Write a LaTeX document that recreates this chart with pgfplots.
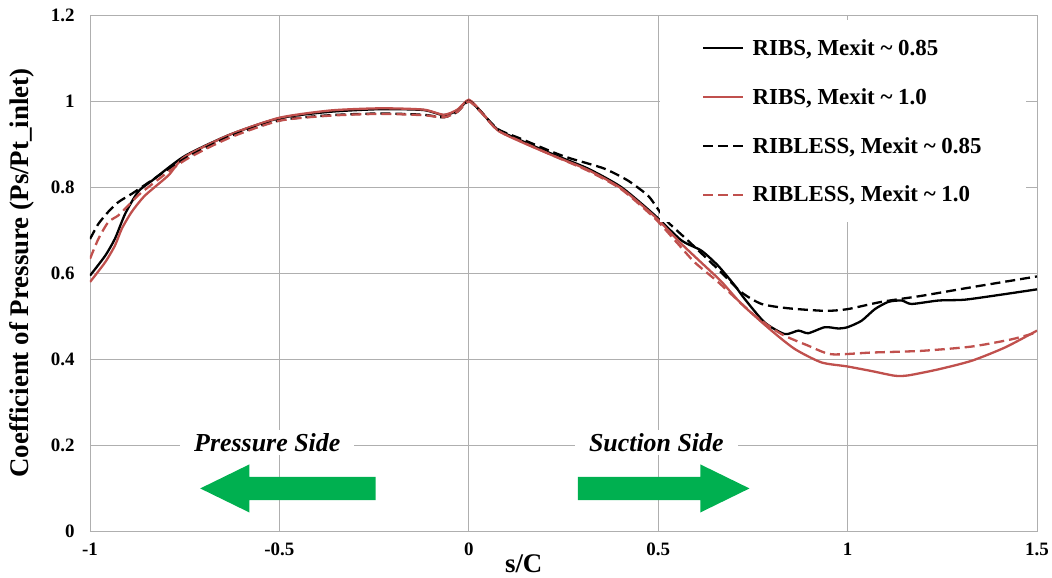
\documentclass[border=0pt]{standalone}
\usepackage{fontspec}
\setmainfont{Liberation Serif}
\usepackage{pgfplots}
\pgfplotsset{compat=1.18}
\definecolor{ribred}{RGB}{192,80,77}
\definecolor{arrgreen}{RGB}{0,176,80}
\definecolor{gridgray}{RGB}{175,175,175}
\begin{document}
\begin{tikzpicture}
\begin{axis}[
  scale only axis, width=947bp, height=516bp,
  xmin=-1, xmax=1.5, ymin=0, ymax=1.2,
  xtick={-1,-0.5,0,0.5,1,1.5}, xticklabels={-1,-0.5,0,0.5,1,1.5},
  ytick={0,0.2,0.4,0.6,0.8,1,1.2}, yticklabels={0,0.2,0.4,0.6,0.8,1,1.2},
  grid=major, major grid style={gridgray, line width=0.9bp},
  axis line style={gridgray, line width=0.9bp},
  major tick length=0pt,
  tick label style={font=\fontsize{19}{21}\selectfont\bfseries},
  xticklabel style={yshift=-8bp},
  yticklabel style={xshift=-12bp},
  xlabel={s/C},
  xlabel style={font=\fontsize{27}{29}\selectfont\bfseries, at={(axis description cs:0.458,-0.063)}, anchor=center},
  ylabel={Coefficient of Pressure (Ps/Pt\_inlet)},
  ylabel style={font=\fontsize{27}{29}\selectfont\bfseries, at={(axis description cs:-0.0718,0.5)}, anchor=center},
  legend style={at={(axis description cs:0.602,0.99)}, anchor=north west, draw=none, fill=white,
    font=\fontsize{23}{25}\selectfont\bfseries, inner xsep=42bp, inner ysep=17bp, row sep=27.5bp,
    cells={anchor=west}},
  legend image code/.code={\draw[#1] (0bp,0bp) -- (40bp,0bp); \path (46bp,0bp);},
  every axis plot/.append style={line width=2.3bp, smooth, tension=0.4},
]
\addplot[black] coordinates {
(-1,0.594) (-0.96,0.64) (-0.934,0.68) (-0.907,0.738) (-0.873,0.789) (-0.836,0.815)
(-0.75,0.872) (-0.63,0.922) (-0.5,0.960) (-0.365,0.975) (-0.233,0.981) (-0.12,0.979)
(-0.066,0.967) (-0.03,0.978) (0,1.001) (0.032,0.975) (0.076,0.934) (0.138,0.908)
(0.225,0.875) (0.314,0.843) (0.402,0.800) (0.49,0.735) (0.561,0.676) (0.614,0.652)
(0.658,0.617) (0.702,0.571) (0.728,0.540) (0.781,0.485) (0.834,0.458) (0.87,0.466)
(0.896,0.460) (0.94,0.474) (0.975,0.471) (1.0,0.474) (1.037,0.489) (1.072,0.516)
(1.108,0.533) (1.143,0.536) (1.169,0.528) (1.24,0.536) (1.31,0.538) (1.416,0.551) (1.5,0.562)
};
\addlegendentry{RIBS, Mexit \textasciitilde{} 0.85}
\addplot[ribred] coordinates {
(-1,0.579) (-0.96,0.625) (-0.934,0.664) (-0.916,0.703) (-0.89,0.742) (-0.855,0.78)
(-0.793,0.827) (-0.75,0.87) (-0.63,0.922) (-0.5,0.961) (-0.365,0.978) (-0.233,0.983)
(-0.12,0.980) (-0.066,0.968) (-0.03,0.980) (0,1.003) (0.032,0.976) (0.076,0.932)
(0.138,0.905) (0.225,0.872) (0.314,0.840) (0.402,0.797) (0.49,0.732) (0.561,0.668)
(0.631,0.610) (0.667,0.58) (0.72,0.528) (0.799,0.466) (0.861,0.423) (0.931,0.392)
(0.997,0.383) (1.063,0.372) (1.125,0.361) (1.161,0.362) (1.24,0.376) (1.328,0.396)
(1.416,0.427) (1.5,0.466)
};
\addlegendentry{RIBS, Mexit \textasciitilde{} 1.0}
\addplot[black, dash pattern=on 10bp off 5bp] coordinates {
(-1,0.679) (-0.978,0.714) (-0.952,0.742) (-0.925,0.765) (-0.89,0.784) (-0.863,0.80)
(-0.75,0.866) (-0.63,0.918) (-0.5,0.955) (-0.365,0.967) (-0.233,0.971) (-0.12,0.968)
(-0.066,0.962) (-0.03,0.975) (0,1.0) (0.032,0.975) (0.076,0.935) (0.138,0.912)
(0.225,0.88) (0.27,0.866) (0.357,0.843) (0.42,0.815) (0.473,0.780) (0.499,0.749)
(0.526,0.718) (0.579,0.675) (0.66,0.607) (0.72,0.555) (0.773,0.528) (0.843,0.518)
(0.94,0.512) (1.0,0.516) (1.09,0.533) (1.196,0.547) (1.328,0.567) (1.5,0.592)
};
\addlegendentry{RIBLESS, Mexit \textasciitilde{} 0.85}
\addplot[ribred, dash pattern=on 10bp off 5bp] coordinates {
(-1,0.633) (-0.978,0.679) (-0.952,0.718) (-0.925,0.734) (-0.899,0.757) (-0.863,0.788)
(-0.75,0.862) (-0.63,0.915) (-0.5,0.954) (-0.365,0.966) (-0.233,0.970) (-0.12,0.967)
(-0.066,0.962) (-0.03,0.975) (0,0.999) (0.032,0.974) (0.076,0.932) (0.138,0.906)
(0.225,0.872) (0.314,0.838) (0.402,0.795) (0.49,0.728) (0.55,0.67) (0.596,0.625)
(0.658,0.579) (0.755,0.501) (0.825,0.458) (0.896,0.431) (0.957,0.411) (1.063,0.415)
(1.196,0.419) (1.328,0.429) (1.434,0.446) (1.5,0.462)
};
\addlegendentry{RIBLESS, Mexit \textasciitilde{} 1.0}
\node[fill=white, inner xsep=14bp, inner ysep=3bp, font=\fontsize{26}{28}\selectfont\bfseries\itshape]
  at (axis cs:-0.532,0.206) {Pressure Side};
\node[fill=white, inner xsep=14bp, inner ysep=3bp, font=\fontsize{26}{28}\selectfont\bfseries\itshape]
  at (axis cs:0.495,0.206) {Suction Side};
\fill[arrgreen] (axis cs:-0.709,0.099) -- (axis cs:-0.579,0.155) -- (axis cs:-0.579,0.126)
  -- (axis cs:-0.246,0.126) -- (axis cs:-0.246,0.072) -- (axis cs:-0.579,0.072)
  -- (axis cs:-0.579,0.043) -- cycle;
\fill[arrgreen] (axis cs:0.741,0.099) -- (axis cs:0.611,0.155) -- (axis cs:0.611,0.126)
  -- (axis cs:0.288,0.126) -- (axis cs:0.288,0.072) -- (axis cs:0.611,0.072)
  -- (axis cs:0.611,0.043) -- cycle;
\end{axis}
\pgfresetboundingbox
\path ([shift={(-90bp,-47bp)}]current axis.south west) rectangle ([shift={(15bp,15bp)}]current axis.north east);
\end{tikzpicture}
\end{document}
